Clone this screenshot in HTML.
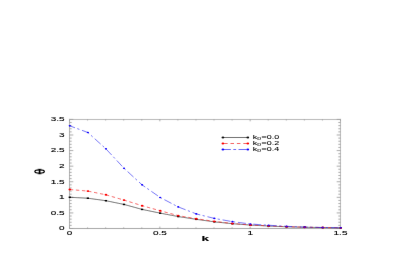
<!DOCTYPE html><html><head><meta charset="utf-8"><style>html,body{margin:0;padding:0;background:#fff}svg{display:block}text{font-family:"Liberation Sans",sans-serif;fill:#000;stroke:#000;stroke-width:0.12}</style></head><body>
<svg width="410" height="258" viewBox="0 0 410 258">
<defs><filter id="b" x="0" y="0" width="410" height="258" filterUnits="userSpaceOnUse"><feConvolveMatrix order="3" kernelMatrix="0.01 0.065 0.01 0.065 0.7 0.065 0.01 0.065 0.01" edgeMode="duplicate" preserveAlpha="true"/></filter><filter id="t" x="0" y="0" width="410" height="258" filterUnits="userSpaceOnUse"><feConvolveMatrix order="3" kernelMatrix="0 0.035 0 0.035 0.86 0.035 0 0.035 0" edgeMode="duplicate" preserveAlpha="false"/></filter></defs>
<g filter="url(#b)">
<rect width="410" height="258" fill="#fff"/>
<path d="M69.5 118.9V229.0" stroke="#a8a8a8" stroke-width="1"/>
<path d="M340.5 118.9V229.0" stroke="#b6b6b6" stroke-width="1"/>
<path d="M69.0 119.5H341.0" stroke="#b2b2b2" stroke-width="1"/>
<path d="M69.0 228.5H341.0" stroke="#9c9c9c" stroke-width="1"/>
<path d="M69.5 228.50h3.8M340.5 228.50h-3.8M69.5 225.38h2.2M340.5 225.38h-2.2M69.5 222.27h2.2M340.5 222.27h-2.2M69.5 219.15h2.2M340.5 219.15h-2.2M69.5 216.03h2.2M340.5 216.03h-2.2M69.5 212.91h3.8M340.5 212.91h-3.8M69.5 209.80h2.2M340.5 209.80h-2.2M69.5 206.68h2.2M340.5 206.68h-2.2M69.5 203.56h2.2M340.5 203.56h-2.2M69.5 200.45h2.2M340.5 200.45h-2.2M69.5 197.33h3.8M340.5 197.33h-3.8M69.5 194.21h2.2M340.5 194.21h-2.2M69.5 191.09h2.2M340.5 191.09h-2.2M69.5 187.98h2.2M340.5 187.98h-2.2M69.5 184.86h2.2M340.5 184.86h-2.2M69.5 181.74h3.8M340.5 181.74h-3.8M69.5 178.63h2.2M340.5 178.63h-2.2M69.5 175.51h2.2M340.5 175.51h-2.2M69.5 172.39h2.2M340.5 172.39h-2.2M69.5 169.27h2.2M340.5 169.27h-2.2M69.5 166.16h3.8M340.5 166.16h-3.8M69.5 163.04h2.2M340.5 163.04h-2.2M69.5 159.92h2.2M340.5 159.92h-2.2M69.5 156.81h2.2M340.5 156.81h-2.2M69.5 153.69h2.2M340.5 153.69h-2.2M69.5 150.57h3.8M340.5 150.57h-3.8M69.5 147.45h2.2M340.5 147.45h-2.2M69.5 144.34h2.2M340.5 144.34h-2.2M69.5 141.22h2.2M340.5 141.22h-2.2M69.5 138.10h2.2M340.5 138.10h-2.2M69.5 134.99h3.8M340.5 134.99h-3.8M69.5 131.87h2.2M340.5 131.87h-2.2M69.5 128.75h2.2M340.5 128.75h-2.2M69.5 125.63h2.2M340.5 125.63h-2.2M69.5 122.52h2.2M340.5 122.52h-2.2M69.5 119.40h3.8M340.5 119.40h-3.8M69.50 228.5v-1.9M69.50 119.4v1.9M87.57 228.5v-1.1M87.57 119.4v1.1M105.63 228.5v-1.1M105.63 119.4v1.1M123.70 228.5v-1.1M123.70 119.4v1.1M141.77 228.5v-1.1M141.77 119.4v1.1M159.83 228.5v-1.9M159.83 119.4v1.9M177.90 228.5v-1.1M177.90 119.4v1.1M195.97 228.5v-1.1M195.97 119.4v1.1M214.03 228.5v-1.1M214.03 119.4v1.1M232.10 228.5v-1.1M232.10 119.4v1.1M250.17 228.5v-1.9M250.17 119.4v1.9M268.23 228.5v-1.1M268.23 119.4v1.1M286.30 228.5v-1.1M286.30 119.4v1.1M304.37 228.5v-1.1M304.37 119.4v1.1M322.43 228.5v-1.1M322.43 119.4v1.1M340.50 228.5v-1.9M340.50 119.4v1.9" stroke="#888" stroke-width="0.75" fill="none"/>
</g><g filter="url(#t)"><polyline points="69.80,197.29 87.87,198.22 105.93,200.71 124.00,204.43 142.07,209.40 160.13,213.13 178.20,216.55 196.27,219.34 214.33,221.83 232.40,223.69 250.47,225.09 268.53,226.02 286.60,226.80 304.67,227.26 322.73,227.57 340.80,227.88" fill="none" stroke="#111" stroke-width="0.55"/><polyline points="69.80,189.53 87.87,191.08 105.93,194.81 124.00,200.09 142.07,205.68 160.13,210.74 178.20,215.62 196.27,218.72 214.33,221.36 232.40,223.47 250.47,224.93 268.53,225.87 286.60,226.64 304.67,227.20 322.73,227.54 340.80,227.85" fill="none" stroke="#f01010" stroke-width="0.6" stroke-dasharray="3.4 2.7"/><polyline points="69.80,125.85 87.87,132.53 105.93,148.84 124.00,168.25 142.07,184.87 160.13,197.45 178.20,206.92 196.27,213.91 214.33,218.41 232.40,221.67 250.47,224.00 268.53,225.24 286.60,226.33 304.67,227.11 322.73,227.48 340.80,227.79" fill="none" stroke="#2020f0" stroke-width="0.6" stroke-dasharray="8 2.5 2.2 2.8" stroke-dashoffset="2.5"/><rect x="68.67" y="196.54" width="2.25" height="1.5" fill="#000"/><rect x="86.74" y="197.47" width="2.25" height="1.5" fill="#000"/><rect x="104.81" y="199.96" width="2.25" height="1.5" fill="#000"/><rect x="122.87" y="203.68" width="2.25" height="1.5" fill="#000"/><rect x="140.94" y="208.65" width="2.25" height="1.5" fill="#000"/><rect x="159.01" y="212.38" width="2.25" height="1.5" fill="#000"/><rect x="177.07" y="215.80" width="2.25" height="1.5" fill="#000"/><rect x="195.14" y="218.59" width="2.25" height="1.5" fill="#000"/><rect x="213.21" y="221.08" width="2.25" height="1.5" fill="#000"/><rect x="231.28" y="222.94" width="2.25" height="1.5" fill="#000"/><rect x="249.34" y="224.34" width="2.25" height="1.5" fill="#000"/><rect x="267.41" y="225.27" width="2.25" height="1.5" fill="#000"/><rect x="285.47" y="226.05" width="2.25" height="1.5" fill="#000"/><rect x="303.54" y="226.51" width="2.25" height="1.5" fill="#000"/><rect x="321.61" y="226.82" width="2.25" height="1.5" fill="#000"/><rect x="339.68" y="227.13" width="2.25" height="1.5" fill="#000"/><ellipse cx="69.80" cy="189.53" rx="1.33" ry="0.95" fill="#f00"/><ellipse cx="87.87" cy="191.08" rx="1.33" ry="0.95" fill="#f00"/><ellipse cx="105.93" cy="194.81" rx="1.33" ry="0.95" fill="#f00"/><ellipse cx="124.00" cy="200.09" rx="1.33" ry="0.95" fill="#f00"/><ellipse cx="142.07" cy="205.68" rx="1.33" ry="0.95" fill="#f00"/><ellipse cx="160.13" cy="210.74" rx="1.33" ry="0.95" fill="#f00"/><ellipse cx="178.20" cy="215.62" rx="1.33" ry="0.95" fill="#f00"/><ellipse cx="196.27" cy="218.72" rx="1.33" ry="0.95" fill="#f00"/><ellipse cx="214.33" cy="221.36" rx="1.33" ry="0.95" fill="#f00"/><ellipse cx="232.40" cy="223.47" rx="1.33" ry="0.95" fill="#f00"/><ellipse cx="250.47" cy="224.93" rx="1.33" ry="0.95" fill="#f00"/><ellipse cx="268.53" cy="225.87" rx="1.33" ry="0.95" fill="#f00"/><ellipse cx="286.60" cy="226.64" rx="1.33" ry="0.95" fill="#f00"/><ellipse cx="304.67" cy="227.20" rx="1.33" ry="0.95" fill="#f00"/><ellipse cx="322.73" cy="227.54" rx="1.33" ry="0.95" fill="#f00"/><ellipse cx="340.80" cy="227.85" rx="1.33" ry="0.95" fill="#f00"/><ellipse cx="69.80" cy="125.85" rx="1.15" ry="0.82" fill="#10f"/><ellipse cx="87.87" cy="132.53" rx="1.15" ry="0.82" fill="#10f"/><ellipse cx="105.93" cy="148.84" rx="1.15" ry="0.82" fill="#10f"/><ellipse cx="124.00" cy="168.25" rx="1.15" ry="0.82" fill="#10f"/><ellipse cx="142.07" cy="184.87" rx="1.15" ry="0.82" fill="#10f"/><ellipse cx="160.13" cy="197.45" rx="1.15" ry="0.82" fill="#10f"/><ellipse cx="178.20" cy="206.92" rx="1.15" ry="0.82" fill="#10f"/><ellipse cx="196.27" cy="213.91" rx="1.15" ry="0.82" fill="#10f"/><ellipse cx="214.33" cy="218.41" rx="1.15" ry="0.82" fill="#10f"/><ellipse cx="232.40" cy="221.67" rx="1.15" ry="0.82" fill="#10f"/><ellipse cx="250.47" cy="224.00" rx="1.15" ry="0.82" fill="#10f"/><ellipse cx="268.53" cy="225.24" rx="1.15" ry="0.82" fill="#10f"/><ellipse cx="286.60" cy="226.33" rx="1.15" ry="0.82" fill="#10f"/><ellipse cx="304.67" cy="227.11" rx="1.15" ry="0.82" fill="#10f"/><ellipse cx="322.73" cy="227.48" rx="1.15" ry="0.82" fill="#10f"/><ellipse cx="340.80" cy="227.79" rx="1.15" ry="0.82" fill="#10f"/><text transform="translate(64.50,230.40) scale(1.72,1)" font-size="5.8" text-anchor="end" font-weight="normal">0</text><text transform="translate(64.50,214.81) scale(1.72,1)" font-size="5.8" text-anchor="end" font-weight="normal">0.5</text><text transform="translate(64.50,199.23) scale(1.72,1)" font-size="5.8" text-anchor="end" font-weight="normal">1</text><text transform="translate(64.50,183.64) scale(1.72,1)" font-size="5.8" text-anchor="end" font-weight="normal">1.5</text><text transform="translate(64.50,168.06) scale(1.72,1)" font-size="5.8" text-anchor="end" font-weight="normal">2</text><text transform="translate(64.50,152.47) scale(1.72,1)" font-size="5.8" text-anchor="end" font-weight="normal">2.5</text><text transform="translate(64.50,136.89) scale(1.72,1)" font-size="5.8" text-anchor="end" font-weight="normal">3</text><text transform="translate(64.50,121.30) scale(1.72,1)" font-size="5.8" text-anchor="end" font-weight="normal">3.5</text><text transform="translate(69.50,234.50) scale(1.72,1)" font-size="5.8" text-anchor="middle" font-weight="normal">0</text><text transform="translate(159.83,234.50) scale(1.72,1)" font-size="5.8" text-anchor="middle" font-weight="normal">0.5</text><text transform="translate(250.17,234.50) scale(1.72,1)" font-size="5.8" text-anchor="middle" font-weight="normal">1</text><text transform="translate(340.50,234.50) scale(1.72,1)" font-size="5.8" text-anchor="middle" font-weight="normal">1.5</text><ellipse cx="39.6" cy="171.5" rx="4.7" ry="1.6" fill="none" stroke="#000" stroke-width="1.3"/><path d="M39.6 169V174.1" stroke="#000" stroke-width="1.7"/><path d="M37.6 169.2h4M37.6 173.9h4" stroke="#000" stroke-width="0.5"/><text transform="translate(205.30,240.90) scale(1.8,1)" font-size="7.5" text-anchor="middle" font-weight="bold">k</text><line x1="222.9" y1="137.5" x2="247.8" y2="137.5" stroke="#222" stroke-width="0.65"/><ellipse cx="222.9" cy="137.5" rx="1.4" ry="0.95" fill="#111"/><ellipse cx="247.8" cy="137.5" rx="1.4" ry="0.95" fill="#111"/><text transform="translate(252.7,139.1) scale(1.9,1)" font-size="4.7" style="stroke-width:0.06">k<tspan font-size="2.9" dy="1.0" dx="0.1">D</tspan><tspan dy="-1.0" dx="0.1">=0.0</tspan></text><line x1="222.9" y1="143.5" x2="247.8" y2="143.5" stroke="#f01010" stroke-width="0.65" stroke-dasharray="3.5 2.9" stroke-dashoffset="5.2"/><ellipse cx="222.9" cy="143.5" rx="1.4" ry="0.95" fill="#f00"/><ellipse cx="247.8" cy="143.5" rx="1.4" ry="0.95" fill="#f00"/><text transform="translate(252.7,145.1) scale(1.9,1)" font-size="4.7" style="stroke-width:0.06">k<tspan font-size="2.9" dy="1.0" dx="0.1">D</tspan><tspan dy="-1.0" dx="0.1">=0.2</tspan></text><line x1="222.9" y1="149.5" x2="247.8" y2="149.5" stroke="#2020f0" stroke-width="0.65" stroke-dasharray="8 2.4 2.8 2.4"/><ellipse cx="222.9" cy="149.5" rx="1.4" ry="0.95" fill="#10f"/><ellipse cx="247.8" cy="149.5" rx="1.4" ry="0.95" fill="#10f"/><text transform="translate(252.7,151.1) scale(1.9,1)" font-size="4.7" style="stroke-width:0.06">k<tspan font-size="2.9" dy="1.0" dx="0.1">D</tspan><tspan dy="-1.0" dx="0.1">=0.4</tspan></text></g></svg></body></html>
